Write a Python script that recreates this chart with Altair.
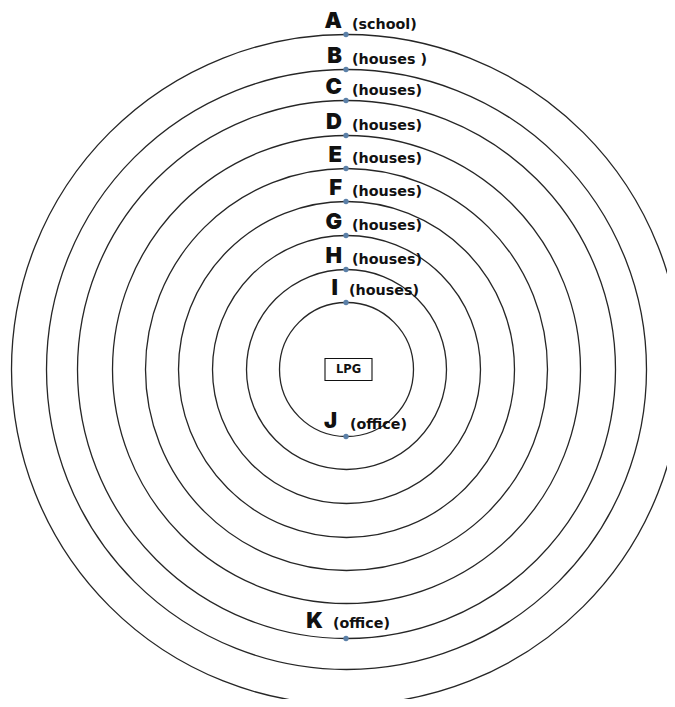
import altair as alt
import pandas as pd

# ---- data -----------------------------------------------------------------
ring_names = ["A", "B", "C", "D", "E", "F", "G", "H", "I"]
ring_radius = [335, 300, 269, 234, 201, 168, 134, 100, 67]

stop_letters = ["A", "B", "C", "D", "E", "F", "G", "H", "I", "J", "K"]
stop_kinds = ["(school)", "(houses )", "(houses)", "(houses)", "(houses)",
              "(houses)", "(houses)", "(houses)", "(houses)", "(office)", "(office)"]
stop_ring = ["A", "B", "C", "D", "E", "F", "G", "H", "I", "I", "C"]
stop_side = ["top"] * 9 + ["bottom", "bottom"]

centre_label = ["LPG"]
CENTRE = (346.5, 369.5)   # centre of the rings, in picture pixels

# ---- tables ------------------------------------------------------------------
rings = pd.DataFrame({"ring": ring_names, "r": ring_radius})
rings["cx"] = CENTRE[0]
rings["cy"] = CENTRE[1]

r_of = dict(zip(ring_names, ring_radius))
stops = pd.DataFrame({
    "letter": stop_letters,
    "kind": stop_kinds,
    "r": [r_of[k] for k in stop_ring],
    "sign": [-1 if s == "top" else 1 for s in stop_side],
})
stops["x"] = CENTRE[0] - 0.5
stops["y"] = CENTRE[1] + stops["sign"] * stops["r"]

centre = pd.DataFrame({"label": centre_label, "x": [CENTRE[0] + 2], "y": [CENTRE[1]]})

# ---- scales (1 data unit = 1 screen pixel) -------------------------------------
W, H = 659, 691
xs = alt.Scale(domain=[8, 8 + W], nice=False, zero=False)
ys = alt.Scale(domain=[8, 8 + H], nice=False, zero=False, reverse=True)

ring_layer = alt.Chart(rings).transform_calculate(
    size="(2*datum.r)*(2*datum.r)"
).mark_point(shape="circle", filled=False, stroke="#262626",
             strokeWidth=1.3, opacity=1).encode(
    x=alt.X("cx:Q", scale=xs, axis=None),
    y=alt.Y("cy:Q", scale=ys, axis=None),
    size=alt.Size("size:Q", scale=None, legend=None),
)

dot_layer = alt.Chart(stops).mark_point(shape="circle", filled=True,
                                        color="#5b80a8", opacity=1, size=28).encode(
    x=alt.X("x:Q", scale=xs, axis=None),
    y=alt.Y("y:Q", scale=ys, axis=None),
)

LETTER_FONT = "Inter"
FONT = "DejaVu Sans"


def text_layers(letters, ldx, ldy, kdx, kdy):
    base = alt.Chart(stops).transform_filter(
        alt.FieldOneOfPredicate(field="letter", oneOf=letters)
    ).encode(
        x=alt.X("x:Q", scale=xs, axis=None),
        y=alt.Y("y:Q", scale=ys, axis=None),
    )
    big = base.mark_text(font=LETTER_FONT, fontWeight=900, fontSize=22, align="right",
                         baseline="alphabetic", dx=ldx, dy=ldy,
                         color="#111111").encode(text="letter:N")
    small = base.mark_text(font=FONT, fontWeight="bold", fontSize=14.3, align="left",
                           baseline="alphabetic", dx=kdx, dy=kdy,
                           color="#111111").encode(text="kind:N")
    return [big, small]


layers = [ring_layer]
layers += text_layers(["A", "B", "C", "D", "E", "F", "G", "H"], -4, -6.5, 6, -5.5)
layers += text_layers(["I"], -8, -8, 3, -7.5)
layers += text_layers(["J"], -9, -9, 4, -7.5)
layers += text_layers(["K"], -23, -11, -13, -10.5)
layers.append(dot_layer)

box = alt.Chart(centre).mark_rect(width=47, height=22, fill="white",
                                  stroke="#111111", strokeWidth=1.1).encode(
    x=alt.X("x:Q", scale=xs, axis=None),
    y=alt.Y("y:Q", scale=ys, axis=None),
)
box_text = alt.Chart(centre).mark_text(font=FONT, fontWeight="bold", fontSize=11.5,
                                       align="center", baseline="middle",
                                       color="#111111").encode(
    x=alt.X("x:Q", scale=xs, axis=None),
    y=alt.Y("y:Q", scale=ys, axis=None),
    text="label:N",
)
layers += [box, box_text]

chart = alt.layer(*layers).properties(
    width=W, height=H,
    autosize=alt.AutoSizeParams(type="none"),
    padding=0,
    background="white",
).configure_view(stroke=None)

chart.save("out.html", embed_options={"renderer": "svg", "actions": False})
